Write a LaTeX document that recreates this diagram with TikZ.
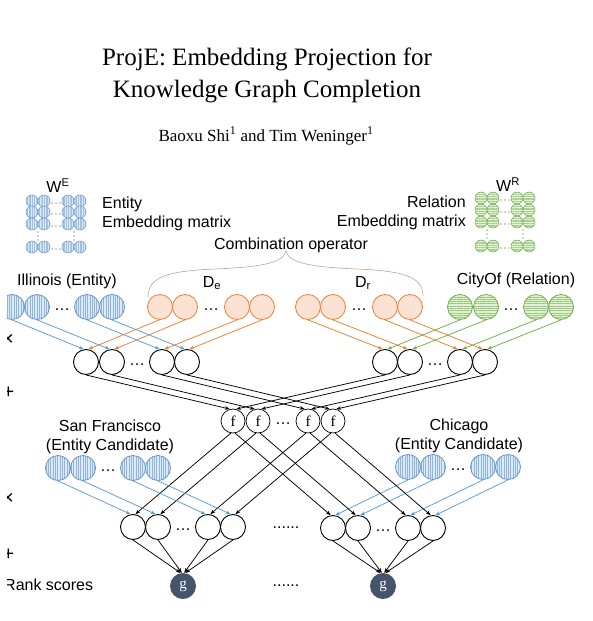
\documentclass[tikz,border=0pt]{standalone}
\usepackage{fontspec}
\setmainfont{Liberation Serif}
\setsansfont{Liberation Sans}
\usetikzlibrary{patterns.meta,arrows.meta}
\definecolor{bstroke}{RGB}{100,150,205}
\definecolor{bfill}{RGB}{222,233,246}
\definecolor{barrow}{RGB}{91,155,213}
\definecolor{ostroke}{RGB}{237,125,49}
\definecolor{ofill}{RGB}{252,230,218}
\definecolor{gstroke}{RGB}{112,173,71}
\definecolor{gfill}{RGB}{226,240,216}
\definecolor{gdark}{RGB}{68,84,106}
\definecolor{bracec}{RGB}{200,160,140}
\begin{document}
\begin{tikzpicture}[x=1pt,y=-1pt,
  lab/.style={font=\sffamily\fontsize{16}{19}\selectfont,inner sep=0pt},
  ttl/.style={font=\fontsize{25}{30}\selectfont,inner sep=0pt},
  auth/.style={font=\fontsize{17}{20}\selectfont,inner sep=0pt},
  sym/.style={font=\sffamily\fontsize{20}{20}\selectfont,inner sep=0pt},
  entc/.style={circle,inner sep=0pt,minimum size=25pt,draw=bstroke,line width=0.8pt,
    preaction={fill=bfill},pattern={Lines[angle=90,distance=2.3pt,line width=0.35pt]},pattern color=bstroke!70},
  relc/.style={circle,inner sep=0pt,minimum size=25pt,draw=ostroke,line width=0.8pt,
    preaction={fill=ofill},pattern={Lines[angle=45,distance=2pt,line width=0.3pt]},pattern color=ostroke!30},
  grnc/.style={circle,inner sep=0pt,minimum size=25pt,draw=gstroke,line width=0.8pt,
    preaction={fill=gfill},pattern={Lines[angle=0,distance=2.3pt,line width=0.35pt]},pattern color=gstroke!70},
  entsm/.style={entc,minimum size=12pt,line width=0.5pt,pattern={Lines[angle=90,distance=1.7pt,line width=0.25pt]},pattern color=bstroke!60},
  grnsm/.style={grnc,minimum size=12pt,line width=0.5pt,pattern={Lines[angle=0,distance=1.7pt,line width=0.25pt]},pattern color=gstroke!60},
  midc/.style={circle,inner sep=0pt,minimum size=25pt,draw=black,line width=0.9pt},
  fc/.style={circle,inner sep=0pt,minimum size=24pt,draw=black,line width=0.7pt,font=\fontsize{15}{15}\selectfont},
  gc/.style={circle,inner sep=0pt,minimum size=26pt,fill=gdark,text=white,font=\fontsize{15}{15}\selectfont},
  tip/.style={-{Stealth[length=5pt,width=3.6pt]},line width=0.75pt},
  barr/.style={tip,draw=barrow},
  oarr/.style={tip,draw=ostroke},
  garr/.style={tip,draw=gstroke},
  karr/.style={tip,draw=black},
  dotc/.style={fill=black!75}
]
\useasboundingbox (0,0) rectangle (593,621);
\clip (7,0) rectangle (593,621);

% title
\node[ttl] (t1) at (267,59) {ProjE: Embedding Projection for};
\node[ttl] (t2) at (267,92) {Knowledge Graph Completion};
\node[auth] (au) at (266,136) {Baoxu Shi\textsuperscript{1} and Tim Weninger\textsuperscript{1}};

% entity embedding matrix
\node[lab] (WE) at (58,186) {W\textsuperscript{E}};
\foreach \x in {32,44,68,80} \foreach \y in {201,212,224,247} \node[entsm] (we-\x-\y) at (\x,\y) {};
\foreach \y in {201,212,224,247} \foreach \d in {52,56,60} \fill[dotc] (\d,\y+2) circle (0.6);
\foreach \x in {38,74} \foreach \y in {232,236,240} \fill[dotc] (\x,\y) circle (0.6);
\node[lab,anchor=west,align=left] (entlab) at (102,213.5) {Entity\\Embedding matrix};

% relation embedding matrix
\node[lab] (WR) at (508,185) {W\textsuperscript{R}};
\foreach \x in {481,493,517,529} \foreach \y in {198,210,222,246} \node[grnsm] (wr-\x-\y) at (\x,\y) {};
\foreach \y in {198,210,222,246} \foreach \d in {501,505,509} \fill[dotc] (\d,\y+2) circle (0.6);
\foreach \x in {487,523} \foreach \y in {230,234,238} \fill[dotc] (\x,\y) circle (0.6);
\node[lab,anchor=east,align=right] (rellab) at (466,213) {Relation\\Embedding matrix};

% combination operator
\node[lab] (comb) at (291,245) {Combination operator};
\draw[bracec,line width=0.6pt] (148,297) .. controls (148,276) and (170,271) .. (215,269)
  .. controls (262,267) and (283,263) .. (286,251)
  .. controls (289,263) and (310,267) .. (357,269)
  .. controls (402,271) and (423,276) .. (423,296);

% top labels
\node[lab] (ill) at (67,281) {Illinois (Entity)};
\node[lab] (De) at (212,283) {D\textsubscript{e}};
\node[lab] (Dr) at (363,283) {D\textsubscript{r}};
\node[lab] (city) at (516,280) {CityOf (Relation)};

% top row circles
\foreach \i/\x in {1/12,2/37,3/87,4/112} \node[entc] (e\i) at (\x,307) {};
\foreach \i/\x in {1/160,2/185,3/237,4/262} \node[relc] (de\i) at (\x,307) {};
\foreach \i/\x in {1/308,2/333,3/385,4/410} \node[relc] (dr\i) at (\x,307) {};
\foreach \i/\x in {1/460,2/486,3/536,4/561} \node[grnc] (r\i) at (\x,307) {};
\node[lab] (d1) at (62,310) {…};
\node[lab] (d2) at (211,310) {…};
\node[lab] (d3) at (359,310) {…};
\node[lab] (d4) at (511,310) {…};

% row symbols (cut at the left edge)
\node[sym] (x1) at (8,340) {×};
\node[sym] (p1s) at (8.5,393) {+};
\node[sym] (x2) at (8,499) {×};
\node[sym] (p2s) at (8.5,555) {+};
\node[lab,anchor=west] (rank) at (4,585) {Rank scores};

% middle combination circles
\foreach \i/\x in {1/86,2/112,3/162,4/187} \node[midc] (m\i) at (\x,362) {};
\foreach \i/\x in {1/385,2/410,3/460,4/485} \node[midc] (n\i) at (\x,362) {};
\node[lab] (d5) at (137,365) {…};
\node[lab] (d6) at (435,365) {…};

% f nodes
\foreach \i/\x in {1/233,2/258,3/308,4/333} \node[fc] (f\i) at (\x,421) {f};
\node[lab] (d7) at (283,424) {…};

% candidates
\node[lab,align=center] (sflab) at (110,436.5) {San Francisco\\(Entity Candidate)};
\node[lab,align=center] (chlab) at (459,435.5) {Chicago\\(Entity Candidate)};
\foreach \i/\x in {1/58,2/83,3/133,4/158} \node[entc] (s\i) at (\x,468) {};
\foreach \i/\x in {1/408,2/433,3/483,4/508} \node[entc] (c\i) at (\x,467) {};
\node[lab] (d8) at (108,471) {…};
\node[lab] (d9) at (458,470) {…};

% bottom circles
\foreach \i/\x in {1/133,2/158,3/208,4/233} \node[midc] (p\i) at (\x,527) {};
\foreach \i/\x in {1/333,2/358,3/408,4/433} \node[midc] (q\i) at (\x,528) {};
\node[lab] (d10) at (183,530) {…};
\node[lab] (d11) at (383,531) {…};
\node[lab] (dd1) at (286,528) {......};
\node[gc] (g1) at (183,586) {g};
\node[gc] (g2) at (383,586) {g};
\node[lab] (dd2) at (286,586) {......};

% arrows
\foreach \i in {1,...,4} {
  \draw[barr] (e\i.south) -- (m\i.100);
  \draw[oarr] (de\i.south) -- (m\i.80);
  \draw[oarr] (dr\i.south) -- (n\i.100);
  \draw[garr] (r\i.south) -- (n\i.80);
  \draw[karr] (m\i.south) -- (f\i.105);
  \draw[karr] (n\i.south) -- (f\i.75);
  \draw[karr] (f\i.-100) -- (p\i.80);
  \draw[karr] (f\i.-80) -- (q\i.100);
  \draw[barr] (s\i.south) -- (p\i.100);
  \draw[barr] (c\i.south) -- (q\i.80);
}
\draw[karr] (p1.south) -- (g1.100);
\draw[karr] (p2.south) -- (g1.95);
\draw[karr] (p3.south) -- (g1.85);
\draw[karr] (p4.south) -- (g1.80);
\draw[karr] (q1.south) -- (g2.100);
\draw[karr] (q2.south) -- (g2.95);
\draw[karr] (q3.south) -- (g2.85);
\draw[karr] (q4.south) -- (g2.80);
\end{tikzpicture}
\end{document}
